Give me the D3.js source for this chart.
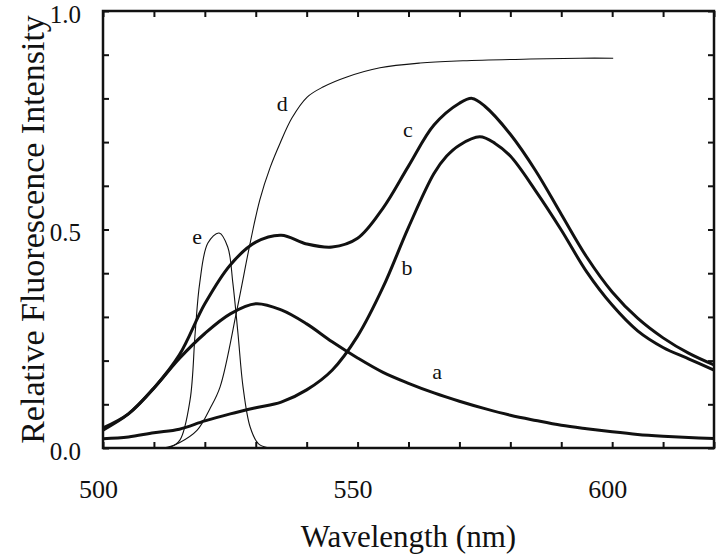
<!DOCTYPE html>
<html>
<head>
<meta charset="utf-8">
<script src="https://cdn.jsdelivr.net/npm/d3@7"></script>
<style>
  html, body { margin: 0; padding: 0; background: #fff; }
  svg { display: block; }
  text { font-family: "Liberation Serif", "Times New Roman", serif; fill: #111; }
</style>
</head>
<body>
<svg id="chart" width="720" height="554"></svg>
<script>
// ---- data ----
const wlA = [500,505,510,515,520,525,530,535,540,545,550,555,560,565,570,575,580,585,590,595,600,605,610,615,620];
const valA = [0.041,0.078,0.137,0.205,0.262,0.307,0.330,0.316,0.284,0.243,0.206,0.173,0.148,0.126,0.107,0.090,0.075,0.063,0.052,0.044,0.037,0.031,0.027,0.024,0.022];

const wlB = [500,505,510,515,520,525,530,535,540,545,550,555,560,565,567.5,570,574,577,580,585,590,595,600,605,610,615,620];
const valB = [0.021,0.025,0.035,0.043,0.062,0.078,0.092,0.105,0.133,0.178,0.256,0.368,0.505,0.628,0.668,0.693,0.712,0.697,0.668,0.588,0.499,0.403,0.327,0.268,0.230,0.204,0.178];

const wlC = [500,505,510,515,520,525,530,535,540,545,550,555,560,565,570,572.5,575,580,585,590,595,600,605,610,615,620];
const valC = [0.046,0.078,0.137,0.213,0.330,0.419,0.471,0.487,0.467,0.460,0.480,0.549,0.645,0.739,0.789,0.800,0.782,0.718,0.634,0.535,0.437,0.357,0.297,0.252,0.217,0.190];

const wlD = [510,512.8,515,518.5,521,523,526.3,528.9,530.8,532.8,534.8,537.1,540.1,543.2,547.9,554.4,562.3,570.7,583.9,593.7,600.2];
const valD = [0,0.002,0.012,0.041,0.09,0.140,0.316,0.469,0.568,0.641,0.698,0.755,0.803,0.826,0.849,0.870,0.881,0.886,0.890,0.892,0.892];

const wlE = [510,513.2,515.1,517.1,518.1,519,520.6,522.8,524.5,525.5,526.5,527.5,528.9,530.5,532.2,535];
const valE = [0,0.002,0.018,0.11,0.263,0.378,0.469,0.492,0.46,0.378,0.263,0.14,0.048,0.01,0.001,0];

const seriesNames = ["a","b","c","d","e"];
const labelWl  = [565.6, 559.7, 559.9, 535.2, 518.5];
const labelVal = [0.174, 0.412, 0.728, 0.789, 0.483];

const xMinorTicks = d3.range(500, 621, 10);
const xLabelTicks = [500, 550, 600];
const yMinorTicks = d3.range(0, 1.0001, 0.1);
const yLabelTicks = [0, 0.5, 1.0];

// ---- layout ----
const margin = {left: 103, right: 6, top: 11, bottom: 106};
const W = 720, H = 554;
const svg = d3.select("#chart");

const x = d3.scaleLinear().domain([500, 620]).range([margin.left, W - margin.right]);
const y = d3.scaleLinear().domain([0, 1]).range([H - margin.bottom, margin.top]);

const series = [
  {name: "a", wl: wlA, v: valA, thick: true},
  {name: "b", wl: wlB, v: valB, thick: true},
  {name: "c", wl: wlC, v: valC, thick: true},
  {name: "d", wl: wlD, v: valD, thick: false},
  {name: "e", wl: wlE, v: valE, thick: false}
];

const line = d3.line()
  .x(d => x(d[0]))
  .y(d => y(Math.max(0, d[1])))
  .curve(d3.curveCatmullRom.alpha(0.5));

const plot = svg.append("g");
series.forEach(s => {
  plot.append("path")
    .datum(s.wl.map((w, i) => [w, s.v[i]]))
    .attr("fill", "none")
    .attr("stroke", "#111")
    .attr("stroke-width", s.thick ? 3 : 1.1)
    .attr("stroke-linejoin", "round")
    .attr("d", line);
});

// series labels
seriesNames.forEach((n, i) => {
  svg.append("text")
    .attr("x", x(labelWl[i]))
    .attr("y", y(labelVal[i]))
    .attr("text-anchor", "middle")
    .attr("dominant-baseline", "central")
    .attr("font-size", 22)
    .text(n);
});

// ---- axes (inward ticks on all four sides) ----
const tickLen = 6;
function styleAxis(g) {
  g.select(".domain").remove();
  g.selectAll(".tick line").attr("stroke", "#111").attr("stroke-width", 2);
}
svg.append("g").attr("transform", `translate(0,${y(0)})`)
  .call(d3.axisBottom(x).tickValues(xMinorTicks).tickSize(-tickLen).tickFormat(""))
  .call(styleAxis);
svg.append("g").attr("transform", `translate(0,${y(1)})`)
  .call(d3.axisTop(x).tickValues(xMinorTicks).tickSize(-tickLen).tickFormat(""))
  .call(styleAxis);
svg.append("g").attr("transform", `translate(${x(500)},0)`)
  .call(d3.axisLeft(y).tickValues(yMinorTicks).tickSize(-tickLen).tickFormat(""))
  .call(styleAxis);
svg.append("g").attr("transform", `translate(${x(620)},0)`)
  .call(d3.axisRight(y).tickValues(yMinorTicks).tickSize(-tickLen).tickFormat(""))
  .call(styleAxis);

// labels
const xl = svg.append("g").attr("transform", `translate(-5,${y(0)})`)
  .call(d3.axisBottom(x).tickValues(xLabelTicks).tickSize(0).tickPadding(32).tickFormat(d3.format("d")));
xl.select(".domain").remove();
xl.selectAll("text").attr("font-size", 26).attr("font-family", "Liberation Serif").attr("fill", "#111");

const yl = svg.append("g").attr("transform", `translate(${x(500)},3)`)
  .call(d3.axisLeft(y).tickValues(yLabelTicks).tickSize(0).tickPadding(22).tickFormat(d3.format(".1f")));
yl.select(".domain").remove();
yl.selectAll("text").attr("font-size", 25).attr("font-family", "Liberation Serif").attr("fill", "#111");

// frame
svg.append("rect")
  .attr("x", x(500)).attr("y", y(1))
  .attr("width", x(620) - x(500)).attr("height", y(0) - y(1))
  .attr("fill", "none").attr("stroke", "#111").attr("stroke-width", 2.5);

// titles
svg.append("text")
  .attr("x", (x(500) + x(620)) / 2)
  .attr("y", 547)
  .attr("text-anchor", "middle")
  .attr("font-size", 31)
  .text("Wavelength (nm)");

svg.append("text")
  .attr("transform", `translate(44,${(y(0) + y(1)) / 2}) rotate(-90)`)
  .attr("text-anchor", "middle")
  .attr("font-size", 34)
  .text("Relative Fluorescence Intensity");
</script>
</body>
</html>
